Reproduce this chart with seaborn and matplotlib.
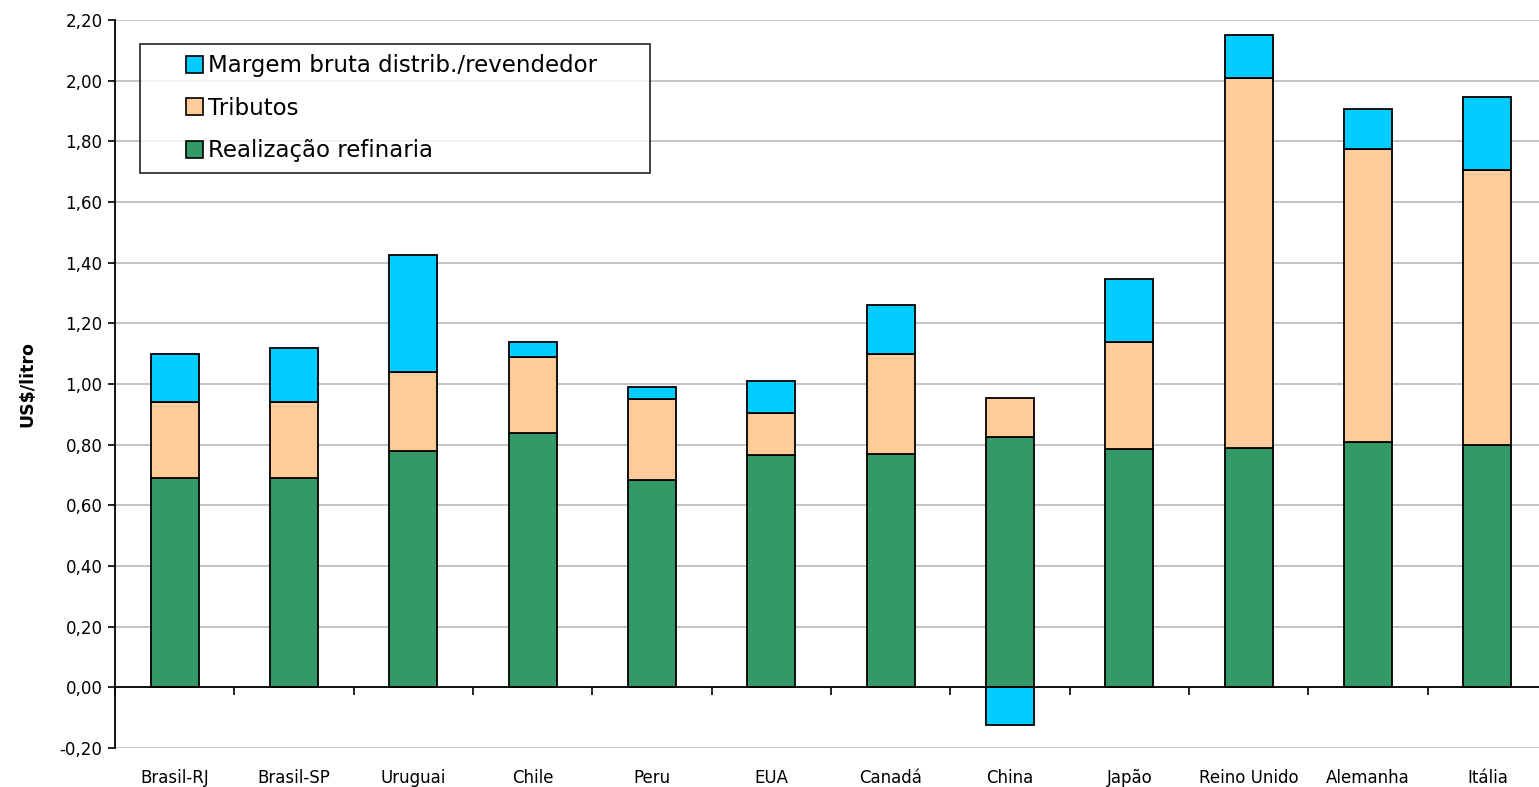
import numpy as np
import matplotlib
matplotlib.use("Agg")
import matplotlib.pyplot as plt
from matplotlib.patches import Patch, Rectangle
from matplotlib.legend_handler import HandlerPatch
from matplotlib.ticker import FuncFormatter, MultipleLocator, FixedLocator
import seaborn as sns

# Preço da gasolina por país, decomposto em três parcelas (US$/litro)
paises = ["Brasil-RJ", "Brasil-SP", "Uruguai", "Chile", "Peru", "EUA",
          "Canadá", "China", "Japão", "Reino Unido", "Alemanha", "Itália"]
realizacao = [0.69, 0.69, 0.78, 0.84, 0.685, 0.765, 0.77, 0.825, 0.785, 0.79, 0.81, 0.80]
tributos = [0.25, 0.25, 0.26, 0.25, 0.265, 0.14, 0.33, 0.13, 0.355, 1.22, 0.965, 0.905]
margem = [0.16, 0.18, 0.385, 0.05, 0.04, 0.105, 0.16, -0.125, 0.205, 0.14, 0.13, 0.24]

serie_nomes = ["Margem bruta distrib./revendedor", "Tributos", "Realização refinaria"]
cores = {"Margem bruta distrib./revendedor": "#00CCFF",
         "Tributos": "#FFCC99",
         "Realização refinaria": "#339966"}

sns.set_theme(style="white")
plt.rcParams["font.family"] = ["DejaVu Sans"]
plt.rcParams.update({"text.color": "black", "axes.labelcolor": "black",
                     "xtick.color": "black", "ytick.color": "black"})

fig = plt.figure(figsize=(15.39, 7.87), dpi=100)
ax = fig.add_axes([115 / 1539, 1 - 748 / 787, (1547 - 115) / 1539, (748 - 20) / 787])

real = np.array(realizacao)
trib = np.array(tributos)
marg = np.array(margem)
base_marg = np.where(marg >= 0, real + trib, 0.0)

bar_kw = dict(edgecolor="black", linewidth=1.3, width=0.4, ax=ax, errorbar=None, saturation=1)
sns.barplot(x=paises, y=real, color=cores["Realização refinaria"], **bar_kw)
sns.barplot(x=paises, y=trib, bottom=real, color=cores["Tributos"], **bar_kw)
sns.barplot(x=paises, y=marg, bottom=base_marg,
            color=cores["Margem bruta distrib./revendedor"], **bar_kw)

ax.set_xlim(-0.5, len(paises) - 0.5)
ax.set_ylim(-0.2, 2.2)

# grade horizontal
ax.yaxis.set_major_locator(MultipleLocator(0.2))
ax.yaxis.set_major_formatter(FuncFormatter(lambda v, p: f"{v:.2f}".replace(".", ",")))
ax.grid(axis="y", color="#C4C4C4", linewidth=1.4)
ax.set_axisbelow(True)

for s in ("top", "right"):
    ax.spines[s].set_visible(False)
ax.spines["left"].set_color("black")
ax.spines["left"].set_linewidth(1.3)
ax.spines["bottom"].set_position(("data", 0))
ax.spines["bottom"].set_color("black")
ax.spines["bottom"].set_linewidth(1.3)

# marcas entre categorias no eixo zero
ax.xaxis.set_major_locator(FixedLocator(np.arange(len(paises) + 1) - 0.5))
ax.tick_params(axis="x", which="major", direction="out", length=6, width=1.2,
               color="black", labelbottom=False, bottom=True)
ax.tick_params(axis="y", direction="out", length=5, width=1.2, color="black",
               labelsize=12, left=True, pad=4)

# rótulos dos países na base do gráfico
sec = ax.secondary_xaxis("bottom")
sec.set_xticks(np.arange(len(paises)))
sec.set_xticklabels(paises, fontsize=12)
sec.tick_params(length=0, pad=15)
sec.spines["bottom"].set_visible(False)

ax.set_xlabel("")
ax.set_ylabel("US$/litro", fontsize=12.5, fontweight="bold", labelpad=17)


def quadrado(legend, orig_handle, xdescent, ydescent, width, height, fontsize):
    # quadrado alinhado à direita da área do marcador
    return Rectangle((width - height - xdescent, -ydescent), height, height)


handles = [Patch(facecolor=cores[n], edgecolor="black", linewidth=1.2) for n in serie_nomes]
leg = ax.legend(handles, serie_nomes, loc="upper left",
                bbox_to_anchor=(0.0175, 0.790, 0.356, 0.177), mode="expand",
                borderaxespad=0, fontsize=16.5, frameon=True, fancybox=False,
                handlelength=2.3, handleheight=0.75, handletextpad=0.22,
                labelspacing=0.85, borderpad=0.45,
                handler_map={Patch: HandlerPatch(patch_func=quadrado)})
leg.get_frame().set_edgecolor("black")
leg.get_frame().set_linewidth(1.3)

fig.savefig("out.png", dpi=100)
